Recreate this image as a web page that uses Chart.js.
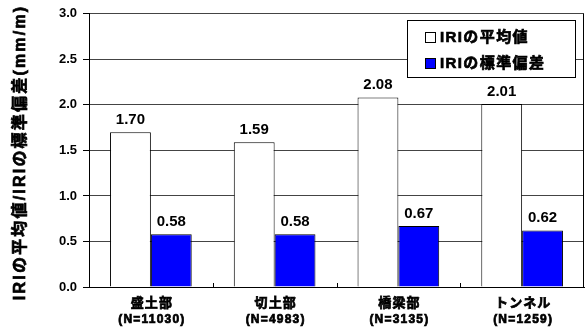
<!DOCTYPE html>
<html>
<head>
<meta charset="utf-8">
<script src="https://cdn.jsdelivr.net/npm/chart.js@4"></script>
<style>
  html, body { margin: 0; padding: 0; background: #fff; }
  #wrap { width: 586px; height: 331px; }
</style>
</head>
<body>
<div id="wrap"><canvas id="chart" width="586" height="331"></canvas></div>
<script>
/* データ */
const categories = ["盛土部", "切土部", "橋梁部", "トンネル"];
const sampleSizes = ["(N=11030)", "(N=4983)", "(N=3135)", "(N=1259)"];
const meanValues = [1.70, 1.59, 2.08, 2.01];
const stdValues = [0.58, 0.58, 0.67, 0.62];
const seriesNames = ["IRIの平均値", "IRIの標準偏差"];
const yTitle = "IRIの平均値/IRIの標準偏差(mm/m)";

const FONT = "'Liberation Sans', 'Noto Sans CJK JP', sans-serif";

/* 太字 (CJK は stroke で補強) */
function boldText(ctx, text, x, y, size, spacing) {
  ctx.font = "bold " + size + "px " + FONT;
  ctx.letterSpacing = (spacing || 0) + "px";
  ctx.lineWidth = 0.7;
  ctx.strokeStyle = "#000";
  ctx.fillStyle = "#000";
  ctx.fillText(text, x, y);
  ctx.strokeText(text, x, y);
  ctx.letterSpacing = "0px";
}

/* ── 数値ラベル + 凡例 + 軸ラベル ───────────── */
const extras = {
  id: "extras",
  afterDatasetsDraw(chart) {
    const ctx = chart.ctx;
    ctx.save();
    ctx.fillStyle = "#000";
    ctx.font = "bold 15px " + FONT;
    ctx.textAlign = "center";
    ctx.textBaseline = "bottom";
    chart.data.datasets.forEach((ds, i) => {
      chart.getDatasetMeta(i).data.forEach((bar, j) => {
        ctx.fillText(ds.data[j].toFixed(2), bar.x, bar.y - 5);
      });
    });

    // 区切り目盛 (内向き)
    const xs = chart.scales.x, a = chart.chartArea;
    ctx.strokeStyle = "#000";
    ctx.lineWidth = 1;
    for (let k = 1; k < categories.length; k++) {
      const x = Math.round((xs.getPixelForValue(k - 1) + xs.getPixelForValue(k)) / 2) + 0.5;
      ctx.beginPath();
      ctx.moveTo(x, a.bottom);
      ctx.lineTo(x, a.bottom - 4);
      ctx.stroke();
    }

    // x 軸ラベル
    ctx.textAlign = "center";
    ctx.textBaseline = "middle";
    categories.forEach((c, k) => {
      const x = xs.getPixelForValue(k);
      boldText(ctx, c, x + 1, a.bottom + 16, 13, 1);
      boldText(ctx, sampleSizes[k], x + 1, a.bottom + 33, 12, 1.2);
    });

    // y 軸タイトル
    ctx.save();
    ctx.translate(21, (a.top + a.bottom) / 2 + 2);
    ctx.rotate(-Math.PI / 2);
    boldText(ctx, yTitle, 0, 0, 16, 2.2);
    ctx.restore();

    // 凡例
    const lx = 407, ly = 20, lw = 168, lh = 57;
    ctx.fillStyle = "#fff";
    ctx.fillRect(lx, ly, lw, lh);
    ctx.strokeStyle = "#000";
    ctx.lineWidth = 1;
    ctx.strokeRect(lx + 0.5, ly + 0.5, lw, lh);
    ctx.textAlign = "left";
    ctx.textBaseline = "middle";
    chart.data.datasets.forEach((ds, i) => {
      const cy = ly + 17 + i * 26;
      ctx.fillStyle = ds.backgroundColor;
      ctx.fillRect(lx + 18, cy - 5, 11, 11);
      ctx.strokeStyle = "#000";
      ctx.lineWidth = 1;
      ctx.strokeRect(lx + 18.5, cy - 4.5, 10, 10);
      boldText(ctx, ds.label, lx + 33, cy + 1, 15, 1.4);
    });
    ctx.restore();
  },
};

new Chart(document.getElementById("chart"), {
  type: "bar",
  data: {
    labels: categories,
    datasets: [
      {
        label: seriesNames[0],
        data: meanValues,
        backgroundColor: "#ffffff",
        borderColor: "#000000",
        borderWidth: 1,
        categoryPercentage: 0.66,
        barPercentage: 1.0,
      },
      {
        label: seriesNames[1],
        data: stdValues,
        backgroundColor: "#0000ff",
        borderColor: "#000000",
        borderWidth: 1,
        categoryPercentage: 0.66,
        barPercentage: 1.0,
      },
    ],
  },
  options: {
    responsive: false,
    animation: false,
    devicePixelRatio: 1,
    layout: { padding: { top: 13, right: 2, left: 0, bottom: 0 } },
    scales: {
      y: {
        min: 0,
        max: 3,
        ticks: {
          stepSize: 0.5,
          color: "#000",
          font: { family: FONT, size: 13, weight: "bold" },
          callback: (v) => v.toFixed(1),
          padding: 6,
        },
        grid: { color: "#444", drawTicks: true, tickLength: 6, tickColor: "#000" },
        border: { color: "#000", width: 1 },
        afterFit(scale) { scale.width = 89; },
      },
      x: {
        ticks: { display: false },
        grid: { display: false },
        border: { color: "#000", width: 1 },
        afterFit(scale) { scale.height = 44; },
      },
    },
    plugins: {
      legend: { display: false },
      tooltip: { enabled: false },
    },
  },
  plugins: [
    extras,
    {
      id: "frame",
      afterDraw(chart) {
        const a = chart.chartArea, ctx = chart.ctx;
        ctx.save();
        ctx.strokeStyle = "#000";
        ctx.lineWidth = 1;
        ctx.beginPath();
        ctx.moveTo(Math.round(a.right) - 0.5, a.top);
        ctx.lineTo(Math.round(a.right) - 0.5, a.bottom);
        ctx.stroke();
        ctx.restore();
      },
    },
  ],
});
</script>
</body>
</html>
